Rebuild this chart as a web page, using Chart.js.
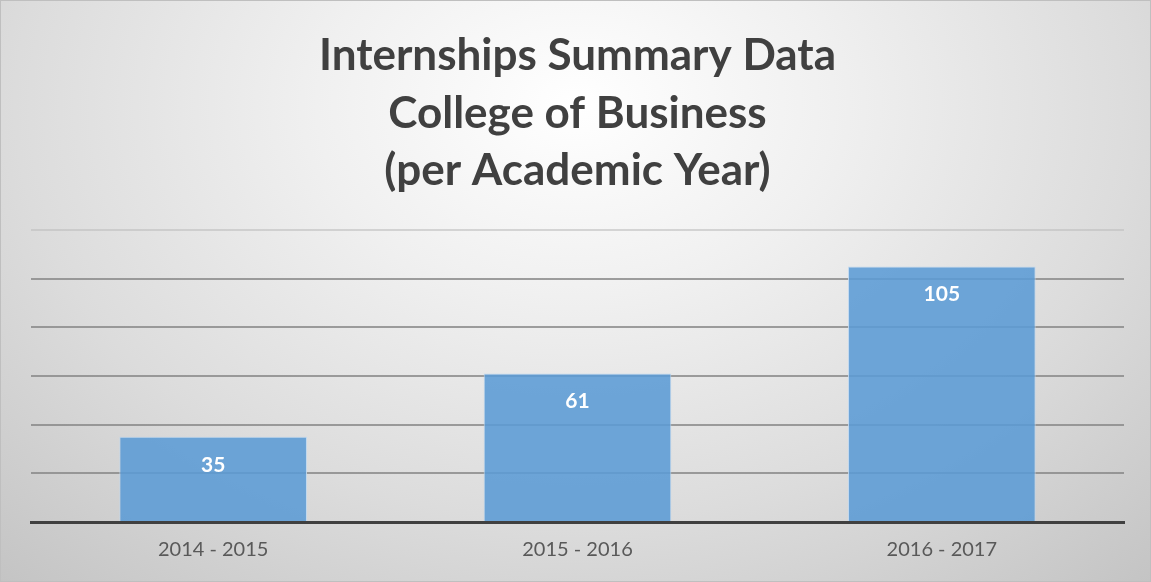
<!DOCTYPE html>
<html>
<head>
<meta charset="utf-8">
<script src="https://cdn.jsdelivr.net/npm/chart.js@4/dist/chart.umd.min.js"></script>
<style>
  html, body { margin: 0; padding: 0; }
  #wrap {
    position: relative;
    width: 1149px;
    height: 580px;
    border: 1px solid #bfbfbf;
    background: radial-gradient(ellipse 75% 110% at 50% 18%, #ffffff 0%, #f0f0f0 30%, #dcdcdc 65%, #c4c4c4 100%);
  }
</style>
</head>
<body>
<div id="wrap"><canvas id="chart"></canvas></div>
<script>
// Internship counts per academic year
var titleLines = ["Internships Summary Data", "College of Business", "(per Academic Year)"];
var years      = ["2014 - 2015", "2015 - 2016", "2016 - 2017"];
var internships = [35, 61, 105];
var yMax  = 120;
var yStep = 20;

// Writes each bar's value in white just below the top of the bar.
var barValueLabels = {
    id: "barValueLabels",
    afterDatasetsDraw: function(chart) {
        var ctx = chart.ctx;
        var meta = chart.getDatasetMeta(0);
        ctx.save();
        ctx.font = "bold 21px Lato, 'Open Sans', sans-serif";
        ctx.fillStyle = "#ffffff";
        ctx.textAlign = "center";
        ctx.textBaseline = "middle";
        meta.data.forEach(function(bar, i) {
            ctx.fillText(String(chart.data.datasets[0].data[i]), bar.x, bar.y + 28);
        });
        ctx.restore();
    }
};

new Chart(document.getElementById("chart"), {
    type: "bar",
    data: {
        labels: years,
        datasets: [{
            label: "Internships",
            data: internships,
            backgroundColor: "rgba(91, 155, 213, 0.88)",
            borderColor: "rgba(190, 215, 240, 0.9)",
            borderWidth: 1,
            categoryPercentage: 1.0,
            barPercentage: 0.515
        }]
    },
    options: {
        responsive: true,
        maintainAspectRatio: false,
        animation: false,
        layout: { padding: { left: 30, right: 26, top: 0, bottom: 3 } },
        plugins: {
            legend: { display: false },
            tooltip: { enabled: false },
            title: {
                display: true,
                text: titleLines,
                color: "#404040",
                font: { family: "Lato, 'Open Sans', sans-serif", size: 44, weight: "bold", lineHeight: 1.31 },
                padding: { top: 26, bottom: 30 }
            }
        },
        scales: {
            x: {
                grid: { display: false, drawTicks: false },
                border: { display: true, color: "#404040", width: 3 },
                ticks: {
                    color: "#595959",
                    font: { family: "Lato, 'Open Sans', sans-serif", size: 20 },
                    padding: 16
                }
            },
            y: {
                min: 0,
                max: yMax,
                ticks: { display: false, stepSize: yStep },
                border: { display: false },
                grid: {
                    drawTicks: false,
                    lineWidth: 2,
                    color: function(c) {
                        var v = c.tick ? c.tick.value : 0;
                        if (v === 0) return "rgba(0,0,0,0)";
                        if (v >= yMax) return "rgba(190,190,190,0.6)";
                        return "rgba(135,135,135,0.8)";
                    }
                }
            }
        }
    },
    plugins: [barValueLabels]
});
</script>
</body>
</html>
